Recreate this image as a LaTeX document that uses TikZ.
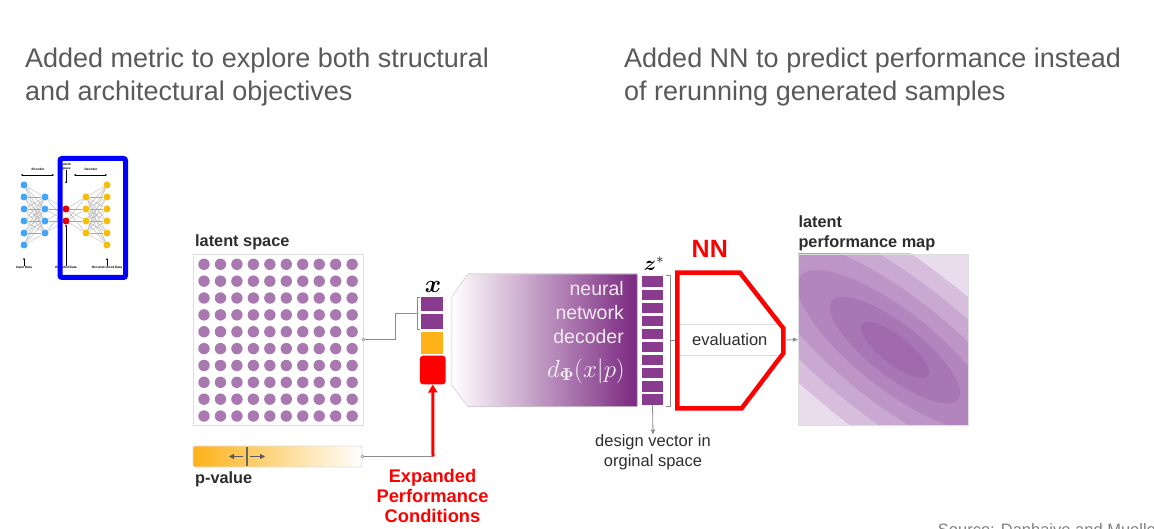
\documentclass[tikz,border=0pt]{standalone}
\usepackage{fontspec}
\setmainfont{Liberation Sans}
\usepackage{bm}
\usetikzlibrary{arrows.meta}
\pgfdeclarelayer{bg}
\pgfsetlayers{bg,main}
\definecolor{titlegray}{RGB}{89,89,89}
\definecolor{labelgray}{RGB}{45,45,45}
\definecolor{dotpurple}{RGB}{170,120,176}
\definecolor{cellpurple}{RGB}{137,60,142}
\definecolor{decpurple}{RGB}{122,40,128}
\definecolor{porange}{RGB}{253,178,24}
\definecolor{linegray}{RGB}{140,140,140}
\definecolor{boxgray}{RGB}{222,222,222}
\definecolor{nnblue}{RGB}{66,165,245}
\definecolor{nnyellow}{RGB}{245,190,10}
\definecolor{nnred}{RGB}{228,0,0}
\definecolor{mzero}{RGB}{233,220,236}
\definecolor{mone}{RGB}{214,190,220}
\definecolor{mtwo}{RGB}{201,168,209}
\definecolor{mthree}{RGB}{189,149,199}
\definecolor{mfour}{RGB}{178,133,190}
\definecolor{mfive}{RGB}{168,118,181}
\definecolor{msix}{RGB}{160,106,173}
\begin{document}
\begin{tikzpicture}[x=1pt,y=-1pt,
  title/.style={font=\fontsize{27}{33}\selectfont, text=titlegray, anchor=base west, inner sep=0},
  lbl/.style={font=\bfseries\fontsize{16.3}{19}\selectfont, text=labelgray, anchor=base west, inner sep=0},
  redlbl/.style={font=\bfseries\fontsize{18.3}{20}\selectfont, text=red, anchor=base, inner sep=0},
  conn/.style={draw=linegray, line width=0.8},
  garrow/.style={conn, -{Triangle[length=5pt,width=4pt]}},
  redarrow/.style={draw=red, line width=3, -{Triangle[length=8pt,width=9pt]}},
  cell/.style={fill=cellpurple, draw=none, minimum width=21.6pt, minimum height=10.3pt, inner sep=0},
  nnode/.style={circle, inner sep=0, minimum size=7pt, draw=none},
  nnline/.style={draw=gray!70, line width=0.3},
  tiny/.style={font=\bfseries\fontsize{3.2}{3.6}\selectfont, inner sep=0, align=center},
  tinyarr/.style={line width=0.45, -{Stealth[length=2pt,width=2pt]}}
]
\useasboundingbox (0,0) rectangle (1154,529);
\clip (0,0) rectangle (1154,529);

% titles
\node[title] (t1a) at (25,67.3) {Added metric to explore both structural};
\node[title] (t1b) at (25,100.7) {and architectural objectives};
\node[title] (t2a) at (624,67.3) {Added NN to predict performance instead};
\node[title] (t2b) at (624,100.7) {of rerunning generated samples};

% small autoencoder graphic
\foreach \k in {0,...,5} \node[nnode, fill=nnblue] (a\k) at (24,185+12*\k) {};
\foreach \k in {0,...,3} \node[nnode, fill=nnblue] (b\k) at (45,197+12*\k) {};
\foreach \k in {0,1} \node[nnode, fill=nnred] (c\k) at (66,209+12*\k) {};
\foreach \k in {0,...,3} \node[nnode, fill=nnyellow] (d\k) at (86,197+12*\k) {};
\foreach \k in {0,...,5} \node[nnode, fill=nnyellow] (e\k) at (107,185+12*\k) {};
\begin{pgfonlayer}{bg}
\foreach \i in {0,...,5} \foreach \j in {0,...,3} \draw[nnline] (a\i) -- (b\j);
\foreach \i in {0,...,3} \foreach \j in {0,1} \draw[nnline] (b\i) -- (c\j);
\foreach \i in {0,1} \foreach \j in {0,...,3} \draw[nnline] (c\i) -- (d\j);
\foreach \i in {0,...,3} \foreach \j in {0,...,5} \draw[nnline] (d\i) -- (e\j);
\end{pgfonlayer}
\node[tiny] (enc) at (38,169.5) {Encoder};
\node[tiny] (dec) at (91,169.5) {Decoder};
\node[tiny] (lsp) at (66,167) {Latent\\Space};
\coordinate (encl) at (21,175); \coordinate (encr) at (54,175);
\coordinate (decl) at (74,175); \coordinate (decr) at (107,175);
\draw[line width=0.45, {Stealth[length=2pt,width=2pt]}-{Stealth[length=2pt,width=2pt]}] (encl) -- (encr);
\draw[line width=0.45, {Stealth[length=2pt,width=2pt]}-{Stealth[length=2pt,width=2pt]}] (decl) -- (decr);
\coordinate (lspd) at (66,183.5);
\draw[tinyarr] (lsp.south) -- (lspd);
\node[tiny] (inp) at (24,267.5) {Input Data};
\node[tiny] (encd) at (66,267.5) {Encoded Data};
\node[tiny] (recd) at (107,267.5) {Reconstructed Data};
\draw[tinyarr] (inp.north) -- ++(0,-8);
\draw[tinyarr] (encd.north) -- (c1.south);
\draw[tinyarr] (recd.north) -- ++(0,-8);
\draw[blue, line width=5, rounded corners=2] (60,158.5) rectangle (125.5,277.5);

% latent space
\node[lbl] (lsl) at (195,246.7) {latent space};
\node[draw=boxgray, line width=0.8, minimum width=170pt, minimum height=171pt, inner sep=0] (ls) at (278,339.5) {};
\foreach \i in {0,...,9} \foreach \j in {0,...,9}
  \fill[dotpurple] (204+16.46*\i, 264.3+16.86*\j) circle[radius=5.7pt];

% x vector
\node[inner sep=0] (xl) at (433,286.7) {\fontsize{23}{23}\selectfont$\bm{x}$};
\node[cell, minimum width=22.6pt, minimum height=14pt] (x1) at (432,304) {};
\node[cell, minimum width=22.6pt, minimum height=14.5pt] (x2) at (432,321.6) {};
\node[fill=porange, minimum width=22.6pt, minimum height=22pt, inner sep=0] (xo) at (432,343) {};
\node[fill=red, rounded corners=3pt, minimum width=25.7pt, minimum height=28.6pt, inner sep=0] (xr) at (432.8,370) {};
\coordinate (xbr) at (417,313);
\draw[conn] (ls.east) -- ++(32,0) |- (xbr);
\filldraw[draw=linegray, fill=white, line width=0.5] (ls.east) circle[radius=1.5pt];
\draw[conn] (420,297) -- (417,297) -- (417,329) -- (420,329);

% p-value
\node[draw=boxgray, line width=0.8, rounded corners=2pt, minimum width=169pt, minimum height=21pt, inner sep=0,
  left color=porange, middle color=porange!22, right color=white] (pv) at (277.5,456.5) {};
\draw[draw=gray!80!black, line width=1.6] (246.7,447) -- (246.7,466);
\draw[draw=gray!70!black, line width=0.8, -{Triangle[length=5pt,width=5pt]}] (243,456.5) -- (229,456.5);
\draw[draw=gray!70!black, line width=0.8, -{Triangle[length=5pt,width=5pt]}] (250,456.5) -- (265,456.5);
\node[lbl] (pvl) at (195,483.3) {p-value};
\coordinate (pc) at (433,456.5);
\draw[conn] (pv.east) -- (pc);
\filldraw[draw=linegray, fill=white, line width=0.5] (pv.east) circle[radius=1.5pt];
\draw[redarrow] (pc) -- (xr.south);
\node[redlbl] (ep1) at (432.5,482.3) {Expanded};
\node[redlbl] (ep2) at (432.5,502.7) {Performance};
\node[redlbl] (ep3) at (432.5,522.3) {Conditions};

% decoder
\fill[left color=white, middle color=decpurple!45, right color=decpurple]
  (468,274) -- (637.3,274) -- (637.3,406.7) -- (468,406.7) -- (451.7,385) -- (451.7,296.7) -- cycle;
\draw[boxgray, line width=0.8]
  (468,274) -- (637.3,274) -- (637.3,406.7) -- (468,406.7) -- (451.7,385) -- (451.7,296.7) -- cycle;
\node[font=\fontsize{19.5}{23.6}\selectfont, text=white!90!decpurple, anchor=base east, inner sep=0] (dn1) at (624,296) {neural};
\node[font=\fontsize{19.5}{23.6}\selectfont, text=white!90!decpurple, anchor=base east, inner sep=0] (dn2) at (624,319.5) {network};
\node[font=\fontsize{19.5}{23.6}\selectfont, text=white!90!decpurple, anchor=base east, inner sep=0] (dn3) at (624,343.2) {decoder};
\node[text=white!95!decpurple, anchor=base east, inner sep=0] (dform) at (625,377) {\fontsize{25.5}{25.5}\selectfont$d_{\bm{\Phi}}(x|p)$};

% z* vector
\node[anchor=base, inner sep=0] (zl) at (654,270.7) {\fontsize{21}{21}\selectfont$\bm{z}^{*}$};
\foreach \k in {0,...,9} \node[cell] (z\k) at (652.5,281.6+13.1*\k) {};
\draw[conn] (666,275) -- (670,275) -- (670,406.7) -- (666,406.7);
\coordinate (zbm) at (670,340);
\coordinate (evl) at (678,340);
\draw[conn] (zbm) -- (evl);
\node[font=\fontsize{16.5}{20}\selectfont, text=labelgray, align=center, inner sep=0, anchor=north] (dv) at (653,434.5) {design vector in\\orginal space};
\draw[garrow] (z9.south) -- (dv.north);

% evaluation
\draw[boxgray, line width=0.8] (680,324) -- (780,324);
\draw[boxgray, line width=0.8] (680,355) -- (780,355);
\node[font=\fontsize{16.5}{20}\selectfont, text=labelgray, anchor=base west, inner sep=0] (ev) at (692,345.7) {evaluation};
\draw[red, line width=4.5, miter limit=10]
  (677.3,272.7) -- (740,272.7) -- (783.3,328.3) -- (783.3,353.3) -- (741.7,408.3) -- (677.3,408.3) -- cycle;
\node[font=\bfseries\fontsize{25}{25}\selectfont, text=red, anchor=base west, inner sep=0] (nn) at (691.5,257.7) {NN};
\coordinate (evr) at (786,340);

% performance map
\node[lbl] (pml1) at (798.3,227.3) {latent};
\node[lbl] (pml2) at (798.3,247.7) {performance map};
\begin{scope}
\clip (798.3,254) rectangle (968.3,425);
\fill[mzero] (798.3,254) rectangle (968.3,425);
\begin{scope}[shift={(895,350)}, rotate=-38]
\fill[mone] (0,0) ellipse[x radius=270pt, y radius=87pt];
\fill[mtwo] (0,0) ellipse[x radius=215pt, y radius=70pt];
\fill[mthree] (0,0) ellipse[x radius=165pt, y radius=54pt];
\fill[mfour] (0,0) ellipse[x radius=120pt, y radius=39pt];
\fill[mfive] (0,0) ellipse[x radius=80pt, y radius=26pt];
\fill[msix] (0,0) ellipse[x radius=42pt, y radius=14pt];
\end{scope}
\end{scope}
\node[draw=boxgray, line width=0.8, minimum width=170pt, minimum height=171pt, inner sep=0] (pm) at (883.3,339.5) {};
\draw[garrow] (evr) -- (pm.west);

% source (cut off at the page edge, as in the reference)
\node[font=\fontsize{16.5}{16.5}\selectfont, text=gray, anchor=base west, inner sep=0] (src) at (937.7,535.5) {Source: Danhaive and Mueller};
\end{tikzpicture}
\end{document}
